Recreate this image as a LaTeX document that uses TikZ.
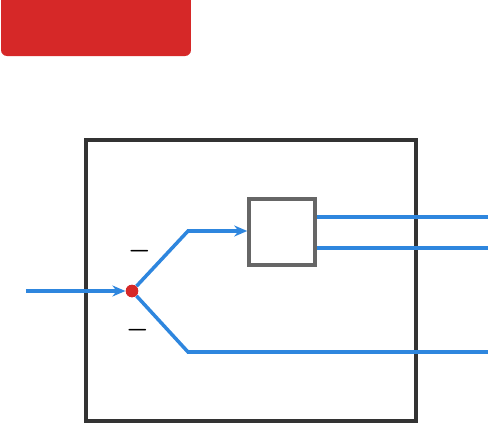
\documentclass[tikz,border=0pt]{standalone}
\usepackage{tikz}
\usetikzlibrary{arrows.meta, positioning, calc}
\definecolor{azul}{HTML}{2E86DE}
\definecolor{rojo}{HTML}{D62828}
\definecolor{gris}{HTML}{666666}
\definecolor{oscuro}{HTML}{333333}

\begin{document}
\begin{tikzpicture}[x=0.02cm, y=-0.02cm,
            marco/.style={rectangle, draw=oscuro, line width=2.5pt, minimum width=6.6cm, minimum height=5.62cm, inner sep=0pt},
            bloque/.style={rectangle, draw=gris, line width=2pt, fill=white, minimum width=1.32cm, minimum height=1.32cm, inner sep=0pt},
            union/.style={circle, fill=rojo, minimum size=0.25cm, inner sep=0pt},
            signo/.style={font=\fontsize{14}{14}\selectfont\boldmath, inner sep=0pt},
            senal/.style={azul, line width=2pt},
            flecha/.style={senal, -{Stealth[length=0.26cm, width=0.22cm]}}
        ]
            \clip (0,0) rectangle (488,423);

            % Etiqueta
            \fill[rojo, rounded corners=0.12cm] (1,-20) rectangle (191,56);

            % Sistema
            \node[marco] (sistema) at (251, 280.5) {};

            % Bloque interno
            \node[bloque] (bloque) at (282, 232) {};

            % Punto de union
            \node[union] (union) at (132, 291) {};

            % Signos
            \node[signo] (menos1) at (139.5, 251) {$-$};
            \node[signo] (menos2) at (137.5, 330) {$-$};

            % Extremos libres
            \coordinate (entrada) at (26, 291);
            \coordinate (codo1) at (188, 231);
            \coordinate (codo2) at (188, 352);
            \coordinate (salida1) at (488, 217);
            \coordinate (salida2) at (488, 248);
            \coordinate (salida3) at (488, 352);

            % Flechas
            \draw[flecha] (entrada) -- (union);
            \draw[flecha] (union) -- (codo1) -- (bloque.west |- codo1);
            \draw[senal] (union) -- (codo2) -- (salida3);
            \draw[senal] (bloque.east |- salida1) -- (salida1);
            \draw[senal] (bloque.east |- salida2) -- (salida2);

            \node[union] at (union) {};
        \end{tikzpicture}
\end{document}
